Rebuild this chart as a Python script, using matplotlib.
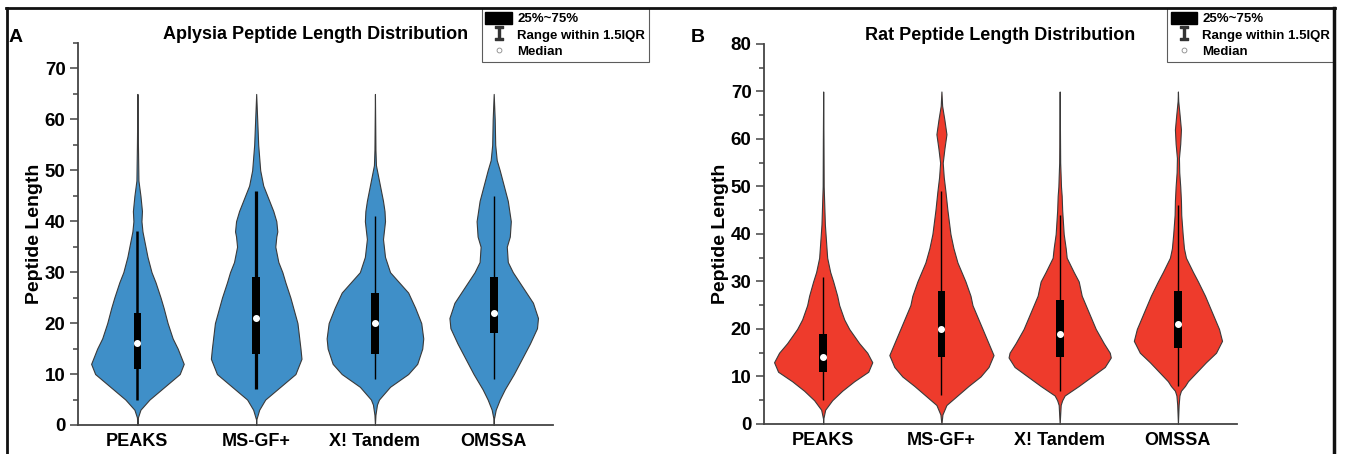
import numpy as np
import matplotlib
matplotlib.use('Agg')
import matplotlib.pyplot as plt
from matplotlib.lines import Line2D
from matplotlib.patches import Patch

plt.rcParams['font.family'] = ['Liberation Sans', 'DejaVu Sans']
plt.rcParams['font.weight'] = 'bold'

tools = ['PEAKS', 'MS-GF+', 'X! Tandem', 'OMSSA']

# Aplysia: density profile (length -> relative density)
aplysia_len = [
    [0, 1.5, 3, 5, 7.5, 10, 12, 15, 17, 20, 23, 25, 28, 30, 33, 35, 38, 40, 42, 45, 48, 55, 65],
    [0, 1, 3, 5, 7.5, 10, 13, 15, 20, 25, 28, 30, 32, 35, 37, 38, 40, 42, 45, 47, 50, 55, 60, 65],
    [0, 2, 4, 5, 7.5, 10, 12, 15, 17, 20, 23, 26, 28, 30, 33, 36.5, 40, 42, 44, 48, 51, 54, 65],
    [0, 1, 3, 5, 7, 10, 13, 16, 19, 21, 24, 27, 30, 32, 35, 37, 40, 44, 47, 50, 52, 55, 60, 65],
]
aplysia_dens = [
    [0, 0.5, 3, 12, 27, 42, 46, 40, 35, 30, 26, 23, 18, 14, 10, 8, 5, 4, 4.5, 3, 1, 0.5, 0],
    [0, 0, 3, 9, 24, 39, 45, 44, 41, 34, 29, 26, 22, 19, 20, 21, 20, 17, 11, 7, 4, 2, 1, 0],
    [0, 0.5, 2, 4, 15, 33, 42, 47, 48, 46, 40, 33, 24, 15, 10, 8, 10, 9.5, 8, 4, 1, 0.5, 0],
    [0, 0, 2, 6, 11, 20, 28, 36, 43, 44, 39, 29, 19, 14, 13, 16, 17, 14, 10, 6, 3, 1.5, 1, 0],
]
aplysia_q1 = [11, 14, 14, 18]
aplysia_med = [16, 21, 20, 22]
aplysia_q3 = [22, 29, 26, 29]
aplysia_lo = [5, 7, 9, 9]
aplysia_hi = [38, 46, 41, 45]

# Rat
rat_len = [
    [0, 1, 3, 5, 7, 9, 11, 13, 15, 17, 20, 22, 25, 27, 30, 32, 35, 38, 42, 50, 60, 70],
    [0, 2, 4, 6, 8, 10, 12, 14.5, 17, 20, 22, 25, 27, 30, 34, 37, 40, 45, 49, 52, 55, 58, 61, 64, 67, 70],
    [0, 4, 5, 6, 8, 10, 12, 14, 15, 17, 20, 22, 25, 27, 30, 32, 35, 37, 40, 45, 48, 50, 52, 55, 70],
    [0, 4, 6, 7, 8, 9, 11, 13, 15, 17.5, 20, 22, 25, 27, 30, 32, 35, 37, 40, 44, 47, 50, 53, 56, 59, 62, 65, 68, 70],
]
rat_dens = [
    [0, 0, 2, 9, 19, 31, 45, 49, 44, 36, 26, 21, 16, 14, 10, 7, 4, 3, 1.7, 0.5, 0.3, 0],
    [0, 1, 5, 16, 27, 39, 47, 52, 47, 41, 37, 31, 29, 24, 16, 12, 9, 6, 4, 2.3, 1.3, 3, 5, 3, 0.7, 0],
    [0, 1, 2.5, 5, 19, 32, 45, 51, 50, 44, 36, 32, 26, 22, 19, 14, 7, 6, 4, 2.5, 2, 1.3, 1, 0.5, 0],
    [0, 0.7, 1.5, 3, 7, 10, 19, 28, 38, 44, 41, 37, 31, 27, 20, 15, 8, 6, 4.7, 3.3, 3, 2.3, 1.3, 1, 2.3, 3, 1.7, 0.3, 0],
]
rat_q1 = [11, 14, 14, 16]
rat_med = [14, 20, 19, 21]
rat_q3 = [19, 28, 26, 28]
rat_lo = [5, 6, 7, 8]
rat_hi = [31, 49, 44, 46]

BLUE = '#3f8fc8'
RED = '#ee3b2c'


def draw_panel(ax, lens, dens, q1, med, q3, lo, hi, color, ymax, title, whisk_lw):
    xs = np.arange(1, len(tools) + 1)
    scale = 1 / 118.0  # density units -> category width
    for i, x in enumerate(xs):
        y = np.array(lens[i], dtype=float)
        w = np.array(dens[i], dtype=float) * scale
        ax.fill_betweenx(y, x - w, x + w, facecolor=color, edgecolor='#3a3a3a',
                         linewidth=0.8, joinstyle='round', zorder=2)
        ax.vlines(x, lo[i], hi[i], color='black', linewidth=whisk_lw[i], zorder=3)
    ax.bar(xs, np.array(q3) - np.array(q1), bottom=q1, width=0.066,
           color='black', zorder=4)
    ax.scatter(xs, med, s=16, color='white', edgecolor='white', zorder=5)

    ax.set_xlim(0.5, 4.5)
    ax.set_ylim(0, ymax)
    ax.set_xticks(xs)
    ax.set_xticklabels(tools, fontsize=13, fontweight='bold')
    ax.tick_params(axis='x', length=0, pad=6)
    ax.set_yticks(np.arange(0, ymax + 1, 10))
    ax.set_yticks(np.arange(5, ymax + 1, 10), minor=True)
    ax.tick_params(axis='y', which='major', length=6, width=1.1, color='#444444',
                   labelsize=13.5, pad=3)
    ax.tick_params(axis='y', which='minor', length=3.5, width=1.1, color='#444444')
    for lab in ax.get_yticklabels():
        lab.set_fontweight('bold')
    for s in ['top', 'right']:
        ax.spines[s].set_visible(False)
    for s in ['left', 'bottom']:
        ax.spines[s].set_color('#444444')
        ax.spines[s].set_linewidth(1.3)
    ax.set_ylabel('Peptide Length', fontsize=14, fontweight='bold', labelpad=1)
    ax.set_title(title, fontsize=13, fontweight='bold', pad=3)


fig = plt.figure(figsize=(13.48, 4.54), dpi=100)
axA = fig.add_axes([0.0579, 0.0639, 0.3524, 0.8414])
axB = fig.add_axes([0.5668, 0.0661, 0.3509, 0.8370])

draw_panel(axA, aplysia_len, aplysia_dens, aplysia_q1, aplysia_med, aplysia_q3,
           aplysia_lo, aplysia_hi, BLUE, 75, 'Aplysia Peptide Length Distribution',
           [1.8, 2.3, 1.0, 1.0])
draw_panel(axB, rat_len, rat_dens, rat_q1, rat_med, rat_q3,
           rat_lo, rat_hi, RED, 80, 'Rat Peptide Length Distribution',
           [1.0, 1.0, 1.0, 1.0])

fig.text(16 / 1348, 1 - 37 / 454, 'A', fontsize=14, fontweight='bold', ha='center', va='center')
fig.text(698 / 1348, 1 - 37 / 454, 'B', fontsize=14, fontweight='bold', ha='center', va='center')

handles = [
    Patch(facecolor='black', edgecolor='black'),
    Line2D([], [], linestyle='none', marker=r'$\mathtt{I}$', markersize=10, color='#333333'),
    Line2D([], [], linestyle='none', marker='o', markersize=3.5, markerfacecolor='white',
           markeredgecolor='#888888', markeredgewidth=0.6),
]
labels = ['25%~75%', 'Range within 1.5IQR', 'Median']
for ax, right in [(axA, 649), (axB, 1334)]:
    leg = ax.legend(handles, labels, loc='upper right',
                    bbox_to_anchor=(right / 1348, 1 - 8 / 454),
                    bbox_transform=fig.transFigure, frameon=True, fancybox=False,
                    borderpad=0.3, borderaxespad=0, handlelength=2.0,
                    handleheight=1.0, handletextpad=0.4, labelspacing=0.22,
                    prop={'size': 9.5, 'weight': 'bold'})
    leg.get_frame().set_edgecolor('#333333')
    leg.get_frame().set_linewidth(0.8)

# outer frame
fig.add_artist(Line2D([6 / 1348, 1335 / 1348], [1 - 8 / 454, 1 - 8 / 454],
                      transform=fig.transFigure, color='#111111', linewidth=2))
fig.add_artist(Line2D([7 / 1348, 7 / 1348], [0, 1 - 8 / 454],
                      transform=fig.transFigure, color='#111111', linewidth=2))
fig.add_artist(Line2D([1334 / 1348, 1334 / 1348], [0, 1 - 8 / 454],
                      transform=fig.transFigure, color='#111111', linewidth=2.5))

fig.savefig('out.png', dpi=100)
